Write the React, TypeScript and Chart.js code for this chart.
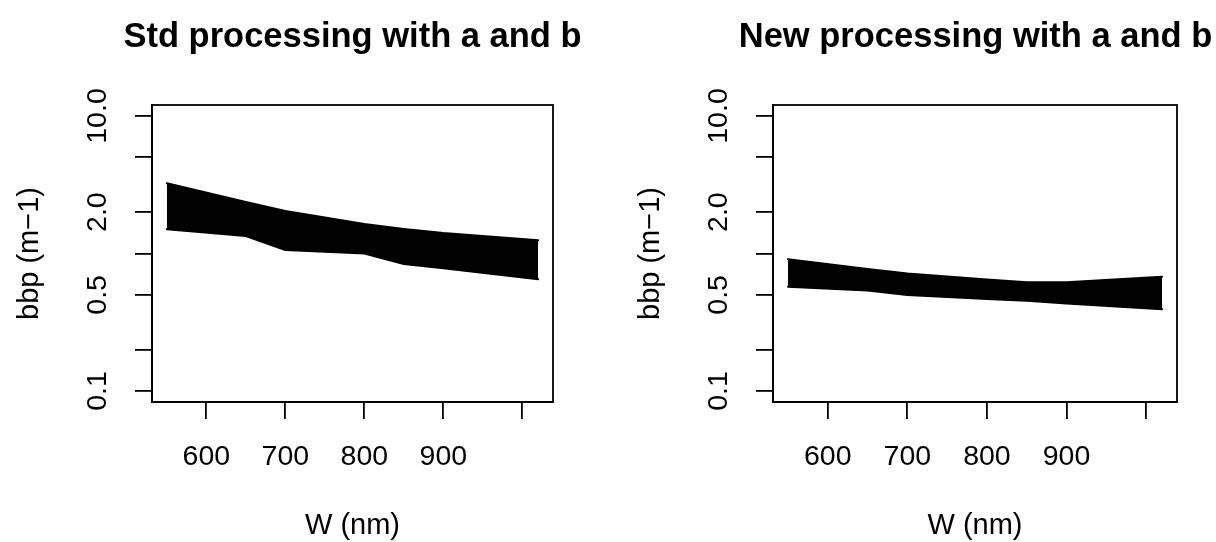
import React, { useEffect, useRef } from "react";
import { Chart, registerables } from "chart.js";

Chart.register(...registerables);

// ---- data ----
const wavelengths = [550, 650, 700, 800, 850, 900, 1020];
const stdUpper = [3.24, 2.37, 2.04, 1.64, 1.51, 1.41, 1.25];
const stdLower = [1.5, 1.34, 1.06, 1.0, 0.84, 0.78, 0.65];
const newUpper = [0.908, 0.771, 0.715, 0.646, 0.617, 0.617, 0.678];
const newLower = [0.574, 0.538, 0.499, 0.466, 0.454, 0.433, 0.393];

const xTickValues = [600, 700, 800, 900, 1000];
const xTickLabels = ["600", "700", "800", "900", ""];
const yTickValues = [0.1, 0.2, 0.5, 1, 2, 5, 10];
const yTickLabels = ["0.1", "", "0.5", "", "2.0", "", "10.0"];

const panelTitles = ["Std processing with a and b", "New processing with a and b"];
const xTitle = "W (nm)";
const yTitle = "bbp (m\u22121)";

const xMin = 531.2;
const xMax = 1038.8;
const yMin = Math.pow(10, -1.08);
const yMax = Math.pow(10, 1.08);

const FONT = '"Liberation Sans", Arial, Helvetica, sans-serif';
const CANVAS_W = 705;
const CANVAS_H = 542;

type PanelCfg = {
  left: number;
  yAxisWidth: number;
  rightSpace: number;
  upper: number[];
  lower: number[];
  title: string;
};

const panels: PanelCfg[] = [
  { left: 0, yAxisWidth: 152, rightSpace: 152, upper: stdUpper, lower: stdLower, title: panelTitles[0] },
  { left: 623, yAxisWidth: 150, rightSpace: 151, upper: newUpper, lower: newLower, title: panelTitles[1] },
];

const boxPlugin = {
  id: "rbox",
  afterDraw(chart: any) {
    const { ctx, chartArea: a } = chart;
    ctx.save();
    ctx.strokeStyle = "#000";
    ctx.lineWidth = 1.8;
    ctx.strokeRect(a.left, a.top, a.right - a.left, a.bottom - a.top);
    const ys = chart.scales.y;
    ctx.font = `28.5px ${FONT}`;
    ctx.fillStyle = "#000";
    ctx.textAlign = "center";
    ctx.textBaseline = "middle";
    yTickValues.forEach((v, i) => {
      const lab = yTickLabels[i];
      if (!lab) return;
      const py = ys.getPixelForValue(v);
      ctx.save();
      ctx.translate(a.left - 54, py);
      ctx.rotate(-Math.PI / 2);
      ctx.fillText(lab, 0, 0);
      ctx.restore();
    });
    ctx.restore();
  },
};

function Panel({ cfg }: { cfg: PanelCfg }) {
  const ref = useRef<HTMLCanvasElement | null>(null);
  useEffect(() => {
    if (!ref.current) return;
    const lineStyle = {
      borderColor: "#000",
      borderWidth: 2,
      pointRadius: 0,
      tension: 0,
      borderCapStyle: "round" as const,
      borderJoinStyle: "round" as const,
    };
    const chart = new Chart(ref.current, {
      type: "line",
      data: {
        datasets: [
          {
            ...lineStyle,
            data: wavelengths.map((w, i) => ({ x: w, y: cfg.lower[i] })),
            fill: false,
          },
          {
            ...lineStyle,
            data: wavelengths.map((w, i) => ({ x: w, y: cfg.upper[i] })),
            fill: "-1",
            backgroundColor: "#000",
          },
        ],
      },
      options: {
        animation: false,
        responsive: false,
        events: [],
        layout: { padding: 0 },
        plugins: {
          legend: { display: false },
          tooltip: { enabled: false },
          title: {
            display: true,
            text: cfg.title,
            color: "#000",
            font: { family: FONT, size: 34.5, weight: "bold", lineHeight: 1.2 },
            padding: { top: 17, bottom: 46.6 },
          },
        },
        scales: {
          x: {
            type: "linear",
            min: xMin,
            max: xMax,
            afterBuildTicks: (s: any) => {
              s.ticks = xTickValues.map((v) => ({ value: v }));
            },
            afterFit: (s: any) => {
              s.height = 140;
            },
            ticks: {
              autoSkip: false,
              maxRotation: 0,
              minRotation: 0,
              color: "#000",
              padding: 21,
              font: { family: FONT, size: 28.5 },
              callback: (v: any) => {
                const i = xTickValues.indexOf(Number(v));
                return i >= 0 ? xTickLabels[i] : "";
              },
            },
            grid: {
              drawOnChartArea: false,
              drawTicks: true,
              tickLength: 17,
              color: "#000",
              lineWidth: 1.8,
            },
            border: { display: true, color: "#000", width: 1.8 },
            title: {
              display: true,
              text: xTitle,
              color: "#000",
              font: { family: FONT, size: 29, lineHeight: 1.1 },
              padding: { top: 0, bottom: 0 },
            },
          },
          y: {
            type: "logarithmic",
            min: yMin,
            max: yMax,
            afterBuildTicks: (s: any) => {
              s.ticks = yTickValues.map((v) => ({ value: v }));
            },
            afterFit: (s: any) => {
              s.width = cfg.yAxisWidth;
            },
            ticks: { display: false },
            grid: {
              drawOnChartArea: false,
              drawTicks: true,
              tickLength: 17,
              color: "#000",
              lineWidth: 1.8,
            },
            border: { display: true, color: "#000", width: 1.8 },
            title: {
              display: true,
              text: yTitle,
              color: "#000",
              font: { family: FONT, size: 29, lineHeight: 1.2 },
              padding: { top: cfg.yAxisWidth - 122 - 17.4, bottom: 0 },
            },
          },
          yRightSpace: {
            type: "linear",
            position: "right",
            display: true,
            grid: { display: false, drawTicks: false },
            border: { display: false },
            ticks: { display: false },
            afterFit: (s: any) => {
              s.width = cfg.rightSpace;
            },
          },
        },
      },
      plugins: [boxPlugin],
    } as any);
    return () => chart.destroy();
  }, [cfg]);
  return (
    <canvas
      ref={ref}
      width={CANVAS_W}
      height={CANVAS_H}
      style={{ position: "absolute", left: cfg.left, top: 0, width: CANVAS_W, height: CANVAS_H }}
    />
  );
}

export default function App() {
  return (
    <div
      style={{
        position: "fixed",
        left: 0,
        top: 0,
        width: 1216,
        height: 542,
        overflow: "hidden",
        background: "#fff",
      }}
    >
      {panels.map((p, i) => (
        <Panel key={i} cfg={p} />
      ))}
    </div>
  );
}
